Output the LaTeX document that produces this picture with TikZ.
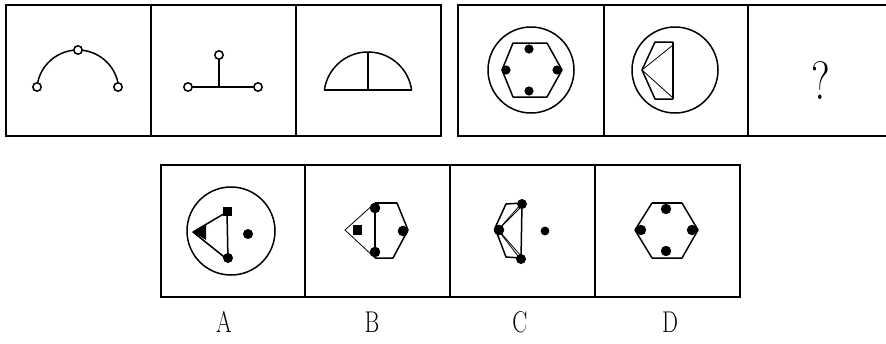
\documentclass[tikz,border=0pt]{standalone}
\usepackage{graphicx}
\begin{document}
\begin{tikzpicture}[x=1pt,y=-1pt,
  frame/.style={line width=1.5pt,draw=black},
  thickframe/.style={line width=2.6pt,draw=black},
  ln/.style={line width=1.5pt,line join=round},
  thk/.style={line width=2.5pt},
  thn/.style={line width=0.8pt},
  hollow/.style={line width=1.5pt,fill=white},
  dot/.style={fill=black},
  lab/.style={inner sep=0pt,font=\fontsize{30}{30}\selectfont}]
\clip (0,0) rectangle (886,343);
\fill[white] (0,0) rectangle (886,343);
% ---------- top left group ----------
\draw[frame] (6,5) rectangle (441,136);
\draw[thickframe] (5,136) -- (442,136);
\draw[thickframe] (151,5) -- (151,136);
\draw[thickframe] (296,5) -- (296,136);
% panel 1
\draw[ln] (37,87) arc[start angle=185.6,end angle=354.4,radius=41];
\draw[hollow] (37,87) circle (4.2);
\draw[hollow] (78,50) circle (4.2);
\draw[hollow] (118,87) circle (4.2);
% panel 2
\draw[thk] (188,87) -- (258,87);
\draw[thk] (219,87) -- (219,55);
\draw[hollow] (188,87) circle (4.2);
\draw[hollow] (258,87) circle (4.2);
\draw[hollow] (219,55) circle (4.2);
% panel 3
\draw[ln] (324.4,90) arc[start angle=187.8,end angle=352.2,radius=44];
\draw[thk] (324,90) -- (412,90);
\draw[thk] (368,90) -- (368,52);
% ---------- top right group ----------
\draw[frame] (458,5) rectangle (890,136);
\draw[thickframe] (457,136) -- (890,136);
\draw[frame] (604,5) -- (604,136);
\draw[thickframe] (748,5) -- (748,136);
% panel 4
\draw[ln] (531,70) circle (43);
\draw[ln] (513,43) -- (547,43) -- (562,70) -- (547,97) -- (513,97) -- (502,70) -- cycle;
\fill[dot] (529,49) circle (4.6);
\fill[dot] (529,91) circle (4.6);
\fill[dot] (506,70) circle (4.6);
\fill[dot] (557,70) circle (4.6);
% panel 5
\draw[ln] (675,70) circle (43);
\draw[ln] (673,42) -- (655,42) -- (642,70) -- (655,99) -- (673,99);
\draw[thk] (673,42) -- (673,99);
\draw[thn] (642,70) -- (673,45);
\draw[thn] (642,70) -- (672,97);
% panel 6
\node[lab,font=\fontsize{54}{54}\selectfont] (q) at (821,81) {\scalebox{0.8}[1]{?}};
% ---------- bottom group ----------
\draw[frame] (161,165) rectangle (740,297);
\draw[thickframe] (160,165) -- (741,165);
\draw[frame] (305,165) -- (305,297);
\draw[thickframe] (450,165) -- (450,297);
\draw[thickframe] (595,165) -- (595,297);
% A
\draw[ln] (231,231) circle (44);
\draw[ln] (193,232) -- (227,212) -- (228,260) -- cycle;
\fill (193,232) -- (206,224) -- (206,240) -- cycle;
\fill (223,207) rectangle (232,216);
\fill[dot] (228,258) circle (5);
\fill[dot] (248,234) circle (5);
% B
\draw[thn] (375,203) -- (345,230) -- (375,258);
\draw[ln] (375,203) -- (397,203) -- (408,230) -- (393,258) -- (375,258);
\draw[thk] (375,203) -- (375,258);
\draw[thk] (375,203) -- (397,203);
\fill (353,225) rectangle (362,235);
\fill[dot] (375,208) circle (5.3);
\fill[dot] (375,252) circle (5.3);
\fill[dot] (403,231) circle (5.3);
% C
\draw[ln] (522,203) -- (506,204) -- (495,228) -- (506,257) -- (521,258);
\draw[thn] (498,230) -- (522,203);
\draw[thn] (501,227) -- (522,206);
\draw[thn] (498,230) -- (521,260);
\draw[thn] (501,233) -- (521,256);
\draw[ln] (522,203) -- (521,260);
\fill[dot] (522,204) circle (5);
\fill[dot] (521,259) circle (5);
\fill[dot] (499,230) circle (5.3);
\fill[dot] (545,231) circle (4.4);
% D
\draw[ln] (652,203) -- (682,203) -- (698,230) -- (682,258) -- (652,258) -- (635,230) -- cycle;
\draw[thk] (652,203) -- (682,203);
\fill[dot] (666,209) circle (5.2);
\fill[dot] (666,251) circle (5.2);
\fill[dot] (641,230) circle (5.2);
\fill[dot] (692,230) circle (5.2);
% labels
\node[lab] (la) at (224,322) {\scalebox{0.75}[1]{A}};
\node[lab] (lb) at (372,322) {\scalebox{0.75}[1]{B}};
\node[lab] (lc) at (520,322) {\scalebox{0.75}[1]{C}};
\node[lab] (ld) at (670,322) {\scalebox{0.75}[1]{D}};
\end{tikzpicture}
\end{document}
